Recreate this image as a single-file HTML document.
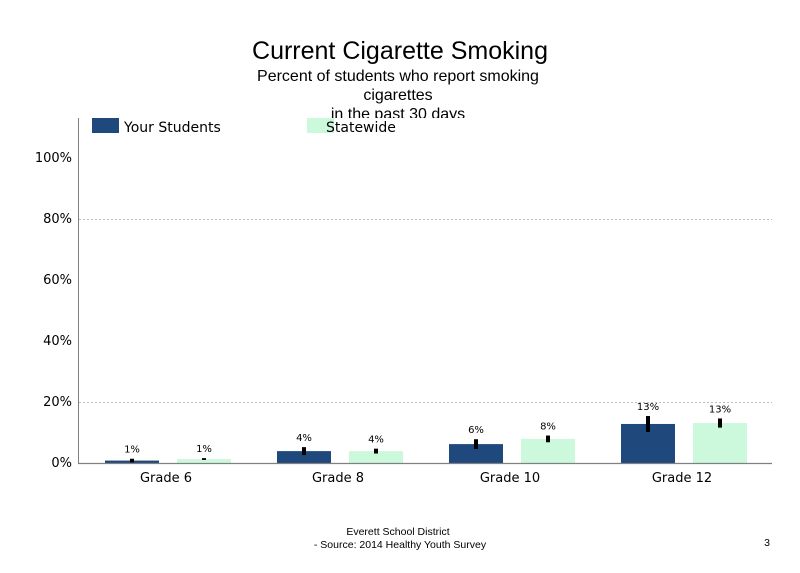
<!DOCTYPE html>
<html><head><meta charset="utf-8"><style>
body{margin:0;background:#fff;}
svg text{font-family:"Liberation Sans",Arial,sans-serif;}
.dj{font-family:"DejaVu Sans","Liberation Sans",sans-serif;}
</style></head><body>
<svg id="chart" width="800" height="568" viewBox="0 0 800 568" xmlns="http://www.w3.org/2000/svg">
<text x="400" y="59" text-anchor="middle" font-size="25" fill="#000">Current Cigarette Smoking</text>
<text x="398" y="81" text-anchor="middle" font-size="16" fill="#000">Percent of students who report smoking</text>
<text x="398" y="100" text-anchor="middle" font-size="16" fill="#000">cigarettes</text>
<text x="398" y="119" text-anchor="middle" font-size="16" fill="#000">in the past 30 days</text>
<rect x="80" y="118" width="700" height="6" fill="#fff"/>
<g id="grid"></g>
<line x1="78.5" y1="118" x2="78.5" y2="463" stroke="#808080" stroke-width="1"/>
<g id="bars"></g>
<line x1="78" y1="463.5" x2="772" y2="463.5" stroke="#808080" stroke-width="1.2"/>
<g>
<rect x="92" y="118" width="27" height="15" fill="#1f497d"/>
<text class="dj" x="124" y="132" font-size="14" fill="#000">Your Students</text>
<rect x="307" y="118" width="27" height="15" fill="#ccf9dc"/>
<text class="dj" x="326" y="132" font-size="14" fill="#000">Statewide</text>
</g>
<text x="398" y="535" text-anchor="middle" font-size="10.5" fill="#000">Everett School District</text>
<text x="400" y="548" text-anchor="middle" font-size="10.5" fill="#000">- Source: 2014 Healthy Youth Survey</text>
<text x="767" y="546" text-anchor="middle" font-size="10.5" fill="#000">3</text>
</svg>
<script>
const categories=["Grade 6","Grade 8","Grade 10","Grade 12"];
const yourStudents=[0.8,3.9,6.2,12.8];
const statewide=[1.3,3.9,7.9,13.1];
const yourErr=[0.6,1.3,1.6,2.6];
const stateErr=[0.3,0.8,1.1,1.5];
const yourLabels=["1%","4%","6%","13%"];
const stateLabels=["1%","4%","8%","13%"];
const yTicks=[0,20,40,60,80,100];
const gridTicks=[20,80];
const NS="http://www.w3.org/2000/svg";
const x0=78,catW=172;
function y(v){return 463-v*3.05;}
function xCat(i){return x0+i*catW;}
function mk(t,a,p){const e=document.createElementNS(NS,t);for(const k in a)e.setAttribute(k,a[k]);p.appendChild(e);return e;}
const grid=document.getElementById('grid'),bars=document.getElementById('bars'),svg=document.getElementById('chart');
gridTicks.forEach(t=>{const l=mk('line',{x1:79,x2:772,y1:y(t)+0.5,y2:y(t)+0.5,stroke:'#bbb','stroke-dasharray':'2,2'},grid);

});
yTicks.forEach(t=>{const tx=mk('text',{x:72,y:y(t)+4,'text-anchor':'end','font-size':'13',fill:'#000',class:'dj'},svg);tx.textContent=t+'%';

});
categories.forEach((c,i)=>{
 const series=[[yourStudents[i],yourErr[i],yourLabels[i],'#1f497d',27,'your-students'],[statewide[i],stateErr[i],stateLabels[i],'#ccf9dc',99,'statewide']];
 series.forEach(s=>{
  const bx=xCat(i)+s[4],w=54;
  const r=mk('rect',{x:bx,y:y(s[0]),width:w,height:463-y(s[0]),fill:s[3]},bars);
  
  
  const cx=bx+w/2;
  const e=mk('line',{x1:cx,x2:cx,y1:y(s[0]+s[1]),y2:y(s[0]-s[1]),stroke:'#000','stroke-width':4},bars);
  
  
  const t=mk('text',{x:cx,y:y(s[0]+s[1])-6,'text-anchor':'middle','font-size':'10',fill:'#000',class:'dj'},bars);
  t.textContent=s[2];
  
  
 });
 const ct=mk('text',{x:xCat(i)+catW/2+2,y:482,'text-anchor':'middle','font-size':'13',fill:'#000',class:'dj'},svg);
 ct.textContent=c;
 
 
});
</script>
</body></html>
